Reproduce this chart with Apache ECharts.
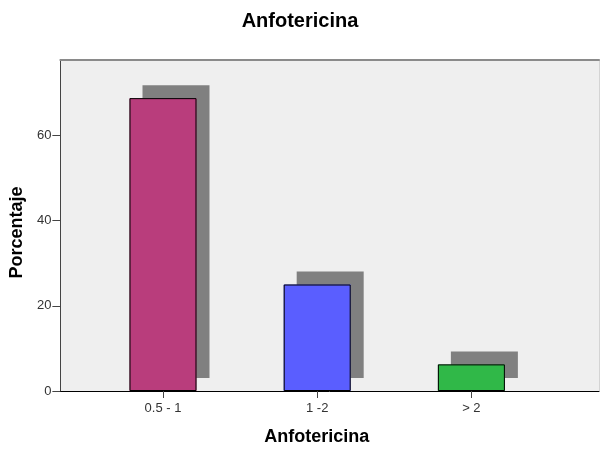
<!DOCTYPE html>
<html>
<head>
<meta charset="utf-8">
<script src="https://cdn.jsdelivr.net/npm/echarts@6/dist/echarts.min.js"></script>
<style>
  html, body { margin: 0; padding: 0; background: #fff; }
  #chart { width: 600px; height: 453px; }
</style>
</head>
<body>
<div id="chart"></div>
<script>
// datos del gráfico
var categories = ['0.5 - 1', '1 -2', '> 2'];
var porcentaje = [68.75, 25, 6.25];
var barColors = ['#b93d7c', '#5a5eff', '#30b848'];
var yTicks = [0, 20, 40, 60];

var chart = echarts.init(document.getElementById('chart'));

var font = 'Liberation Sans, Arial, sans-serif';

var fillData = [];
var borderData = [];
for (var i = 0; i < categories.length; i++) {
    fillData.push({
        value: [i, porcentaje[i]],
        itemStyle: { color: barColors[i] }
    });
    borderData.push([i, porcentaje[i]]);
}

var option = {
    backgroundColor: '#ffffff',
    animation: false,
    title: {
        text: 'Anfotericina',
        left: 'center',
        top: 11,
        padding: 0,
        textStyle: { fontFamily: font, fontSize: 20, fontWeight: 'bold', color: '#000' }
    },
    grid: {
        left: 60,
        top: 60,
        right: 1,
        bottom: 62,
        show: true,
        backgroundColor: '#efefef',
        borderWidth: 0
    },
    xAxis: [
        {
            type: 'value',
            min: -0.6656,
            max: 2.8276,
            position: 'bottom',
            name: 'Anfotericina',
            nameLocation: 'middle',
            nameGap: 37,
            nameTextStyle: { fontFamily: font, fontSize: 18, fontWeight: 'bold', color: '#000', padding: [0, 26, 0, 0] },
            splitLine: { show: false },
            axisLine: { show: true, onZero: false, lineStyle: { color: '#000', width: 1 } },
            axisTick: { show: true, length: 7, customValues: [0, 1, 2], lineStyle: { color: '#444' } },
            axisLabel: {
                customValues: [0, 1, 2],
                margin: 11,
                fontFamily: font, fontSize: 13, color: '#333',
                formatter: function (v) { return categories[Math.round(v)]; }
            }
        },
        {
            type: 'value',
            position: 'top',
            min: 0, max: 1,
            axisLine: { show: true, onZero: false, lineStyle: { color: '#8a8a8a', width: 2 } },
            axisTick: { show: false },
            axisLabel: { show: false },
            splitLine: { show: false }
        }
    ],
    yAxis: [
        {
            type: 'value',
            min: 0,
            max: 77.7,
            name: 'Porcentaje',
            nameLocation: 'middle',
            nameGap: 30,
            nameTextStyle: { fontFamily: font, fontSize: 18, fontWeight: 'bold', color: '#000', padding: [0, 14, 0, 0] },
            splitLine: { show: false },
            axisLine: { show: true, onZero: false, lineStyle: { color: '#444', width: 1 } },
            axisTick: { show: true, length: 8, customValues: yTicks, lineStyle: { color: '#444' } },
            axisLabel: { customValues: yTicks, margin: 9, fontFamily: font, fontSize: 13, color: '#333' }
        },
        {
            type: 'value',
            position: 'right',
            min: 0, max: 1,
            axisLine: { show: true, onZero: false, lineStyle: { color: '#d4d4d4', width: 1 } },
            axisTick: { show: false },
            axisLabel: { show: false },
            splitLine: { show: false }
        }
    ],
    series: [
        {
            // relleno con sombra gris
            type: 'bar',
            xAxisIndex: 0,
            yAxisIndex: 0,
            barWidth: 67,
            data: fillData,
            itemStyle: {
                borderWidth: 0,
                shadowColor: '#808080',
                shadowBlur: 0,
                shadowOffsetX: 13,
                shadowOffsetY: -13
            }
        },
        {
            // borde negro
            type: 'bar',
            xAxisIndex: 0,
            yAxisIndex: 0,
            barWidth: 67,
            barGap: '-100%',
            data: borderData,
            itemStyle: {
                color: 'rgba(0,0,0,0)',
                borderColor: '#000',
                borderWidth: 1
            }
        }
    ]
};

chart.setOption(option);
</script>
</body>
</html>
